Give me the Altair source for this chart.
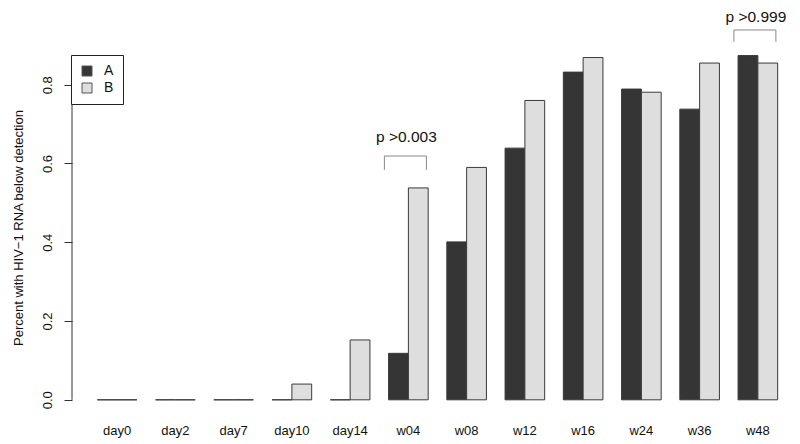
import altair as alt
import pandas as pd

categories = ["day0", "day2", "day7", "day10", "day14", "w04", "w08", "w12", "w16", "w24", "w36", "w48"]
series_a = [0, 0, 0, 0, 0, 0.118, 0.401, 0.639, 0.832, 0.789, 0.738, 0.874]
series_b = [0, 0, 0, 0.040, 0.152, 0.538, 0.590, 0.760, 0.869, 0.781, 0.855, 0.855]
groups = ["A", "B"]
y_ticks = [0.0, 0.2, 0.4, 0.6, 0.8]

ann_cats = ["w04", "w48"]
ann_text = ["p >0.003", "p >0.999"]
ann_text_y = [0.667, 0.972]
ann_top_y = [0.619, 0.939]
ann_end_y = [0.584, 0.909]

rows = []
for c, a, b in zip(categories, series_a, series_b):
    rows.append({"cat": c, "grp": "A", "val": a})
    rows.append({"cat": c, "grp": "B", "val": b})
df = pd.DataFrame(rows)
ann = pd.DataFrame({"cat": ann_cats, "label": ann_text, "ty": ann_text_y,
                    "top": ann_top_y, "end": ann_end_y})

FONT = "Liberation Sans"
xscale = alt.Scale(domain=categories, paddingInner=0.32, paddingOuter=0.16)
yscale = alt.Scale(domain=[-0.036, 0.911], nice=False, zero=False)

bars = alt.Chart(df).mark_bar(stroke="#3a3a3a", strokeWidth=1).encode(
    x=alt.X("cat:N", scale=xscale, sort=categories,
            axis=alt.Axis(title=None, labelAngle=0, ticks=False, domain=False,
                          labelPadding=10, labelFontSize=13, labelFont=FONT,
                          labelColor="#111")),
    xOffset=alt.XOffset("grp:N", scale=alt.Scale(domain=groups, paddingInner=0, paddingOuter=0)),
    y=alt.Y("val:Q", scale=yscale,
            axis=alt.Axis(title="Percent with HIV\u22121 RNA below detection",
                          values=y_ticks, format=".1f", grid=False, domain=False,
                          offset=16, tickSize=8, tickColor="#333",
                          labelAngle=270, labelAlign="center", labelBaseline="bottom",
                          labelPadding=10, labelFontSize=13, labelFont=FONT, labelColor="#111",
                          titleFont=FONT, titleFontSize=13, titleFontWeight="normal",
                          titleColor="#111", titlePadding=16)),
    y2=alt.Y2(datum=0),
    fill=alt.Fill("grp:N", scale=alt.Scale(domain=groups, range=["#353535", "#dedede"]),
                  legend=alt.Legend(title=None, orient="none", legendX=-17, legendY=14,
                                    strokeColor="#222", padding=9, symbolType="square",
                                    symbolSize=100, symbolStrokeColor="#555", symbolStrokeWidth=1,
                                    labelFontSize=14, labelFont=FONT, labelColor="#111",
                                    rowPadding=3, labelOffset=10, fillColor="white")),
)

yaxis_line = alt.Chart(pd.DataFrame({"y0": [0.0], "y1": [0.8]})).mark_rule(
    color="#333", strokeWidth=1).encode(
    x=alt.value(-16), y=alt.Y("y0:Q", scale=yscale), y2="y1:Q")

ann_base = alt.Chart(ann).encode(x=alt.X("cat:N", scale=xscale, sort=categories))
ann_label = ann_base.mark_text(fontSize=15.5, font=FONT, color="#111", xOffset=-2).encode(
    y=alt.Y("ty:Q", scale=yscale), text="label:N")
ann_h = ann_base.mark_rule(color="#888", strokeWidth=1, xOffset=-24, x2Offset=18).encode(
    x2="cat:N", y=alt.Y("top:Q", scale=yscale))
ann_l = ann_base.mark_rule(color="#888", strokeWidth=1, xOffset=-24).encode(
    y=alt.Y("top:Q", scale=yscale), y2="end:Q")
ann_r = ann_base.mark_rule(color="#888", strokeWidth=1, xOffset=18).encode(
    y=alt.Y("top:Q", scale=yscale), y2="end:Q")

chart = alt.layer(bars, yaxis_line, ann_h, ann_l, ann_r, ann_label).properties(
    width=699, height=373,
    background="white",
    autosize=alt.AutoSizeParams(type="none"),
    padding={"left": 80, "top": 33, "right": 5, "bottom": 30},
).configure_view(strokeWidth=0, stroke="transparent")

chart.save("out.html", embed_options={"renderer": "svg", "actions": False})
